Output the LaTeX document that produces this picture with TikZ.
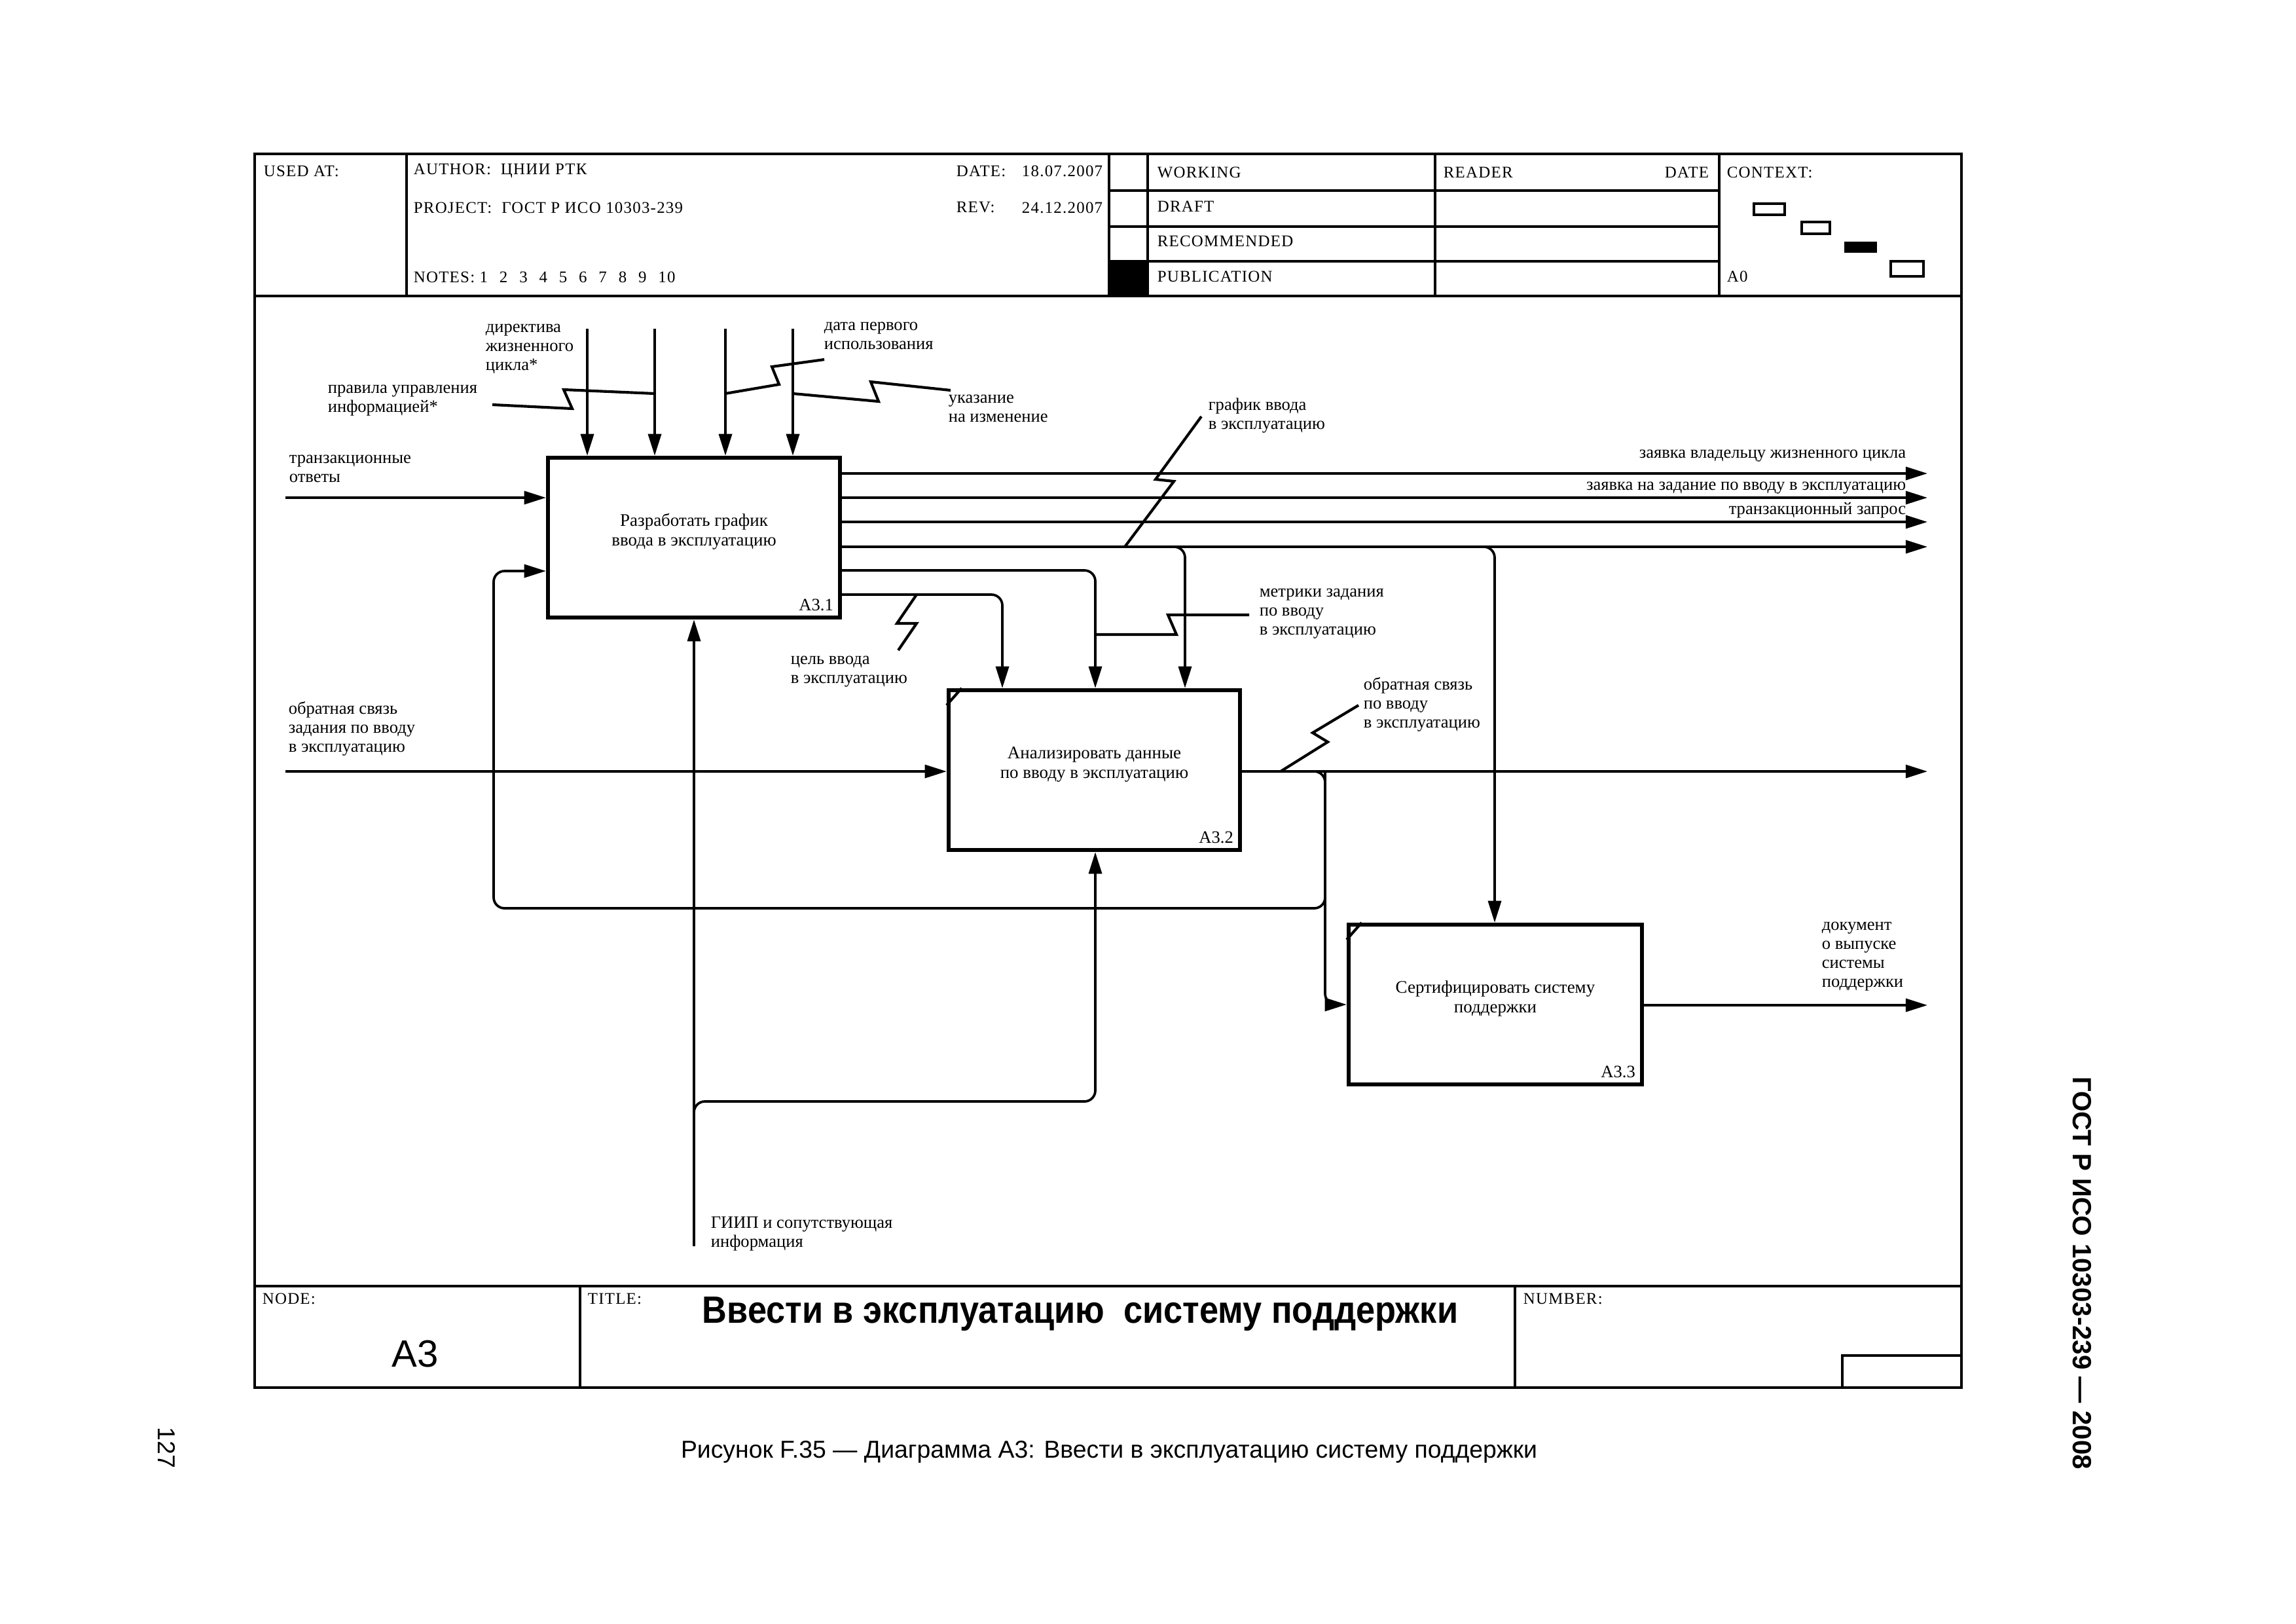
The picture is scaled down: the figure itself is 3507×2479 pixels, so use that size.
\documentclass[tikz,border=0pt]{standalone}
\usepackage{fontspec}
\usepackage{graphicx}
\setmainfont{Liberation Serif}
\newfontfamily\arialfont{Liberation Sans}
\newfontfamily\hdrfont[LetterSpace=5]{Liberation Serif}
\usetikzlibrary{arrows.meta,fit,calc}

\begin{document}
\begin{tikzpicture}[x=0.0084688cm,y=-0.0084688cm,
        frame/.style={line width=1.1pt},
        cell/.style={line width=0.8pt},
        actbox/.style={draw,line width=1.5pt,inner sep=0pt,align=center,
            font=\fontsize{6.5}{7.2}\selectfont},
        flow/.style={-{Triangle[length=8pt,width=4.8pt]},line width=0.9pt,rounded corners=4pt},
        squig/.style={line width=1pt},
        lbl/.style={inner sep=0pt,align=left,font=\fontsize{6.4}{7}\selectfont},
        hdr/.style={inner sep=0pt,anchor=west,font=\hdrfont\fontsize{6}{7}\selectfont}]

    \useasboundingbox (0,0) rectangle (3507,2479);

    % form
    \draw[frame] (389,235) rectangle (2996,2119);
    \draw[frame] (389,452) -- (2996,452);
    \draw[frame] (389,1964) -- (2996,1964);
    \foreach \xx in {621,1694,1753,2192,2626}
        \draw[cell] (\xx,235) -- (\xx,452);
    \foreach \yy in {291,346,399}
        \draw[cell] (1694,\yy) -- (2626,\yy);
    \fill (1694,399) rectangle (1753,452);
    \draw[cell] (886,1964) -- (886,2119);
    \draw[cell] (2314,1964) -- (2314,2119);
    \draw[frame] (2814,2119) -- (2814,2070) -- (2996,2070);

    \node[hdr] (usedat) at (402,261) {USED AT:};
    \node[hdr] (author) at (631,261) {AUTHOR:\ \ ЦНИИ РТК};
    \node[hdr] (date) at (1460,261) {DATE:};
    \node[hdr,anchor=east] (datev) at (1685,261) {18.07.2007};
    \node[hdr] (project) at (631,317) {PROJECT:\ \ ГОСТ Р ИСО 10303-239};
    \node[hdr] (rev) at (1460,317) {REV:};
    \node[hdr,anchor=east] (revdate) at (1685,317) {24.12.2007};
    \node[hdr] (notes) at (631,423) {NOTES:\ 1\hspace{4.3pt}2\hspace{4.3pt}3\hspace{4.3pt}4\hspace{4.3pt}5\hspace{4.3pt}6\hspace{4.3pt}7\hspace{4.3pt}8\hspace{4.3pt}9\hspace{4.3pt}10};
    \node[hdr] (working) at (1767,263) {WORKING};
    \node[hdr] (draft) at (1767,315) {DRAFT};
    \node[hdr] (recom) at (1767,368) {RECOMMENDED};
    \node[hdr] (publ) at (1767,422) {PUBLICATION};
    \node[hdr] (reader) at (2204,263) {READER};
    \node[hdr,anchor=east] (rdate) at (2611,263) {DATE};
    \node[hdr] (context) at (2637,263) {CONTEXT:};
    \node[hdr] (ctxnode) at (2637,422) {A0};

    % context boxes
    \draw[line width=0.8pt] (2679,311) rectangle (2726,328);
    \draw[line width=1.1pt] (2752,339) rectangle (2795,357);
    \fill (2817,369) rectangle (2867,386);
    \draw[line width=0.8pt] (2888,399) rectangle (2938,422);

    \node[hdr] (nodelbl) at (400,1983) {NODE:};
    \node[hdr] (titlelbl) at (897,1983) {TITLE:};
    \node[hdr] (numlbl) at (2326,1983) {NUMBER:};
    \node[anchor=base,inner sep=0pt,font=\arialfont\fontsize{14}{16}\selectfont] (nodeid) at (634,2087) {A3};
    \node[anchor=base,inner sep=0pt,font=\arialfont\bfseries\fontsize{14}{16}\selectfont] (title) at (1650,2020)
        {\scalebox{0.9}[1]{Ввести в эксплуатацию\ \ систему поддержки}};

    \node[font=\arialfont\fontsize{9}{11}\selectfont] (caption) at (1694,2217)
        {Рисунок F.35 — Диаграмма А3: Ввести в эксплуатацию систему поддержки};
    \node[rotate=-90,font=\arialfont\bfseries\fontsize{9.7}{12}\selectfont] (gost) at (3180,1944)
        {ГОСТ Р ИСО 10303-239 — 2008};
    \node[rotate=-90,font=\arialfont\fontsize{9}{11}\selectfont] (page) at (255,2211) {127};

    % activities
    \node[actbox,fit={(837,699) (1283,943)}] (a31) {Разработать график\\ввода в эксплуатацию};
    \node[actbox,fit={(1449,1054) (1894,1298)}] (a32) {Анализировать данные\\по вводу в эксплуатацию};
    \node[actbox,fit={(2060,1412) (2508,1656)}] (a33) {Сертифицировать систему\\поддержки};
    \node[lbl,anchor=south east] (n31) at ([xshift=-3pt,yshift=3pt]a31.south east) {A3.1};
    \node[lbl,anchor=south east] (n32) at ([xshift=-3pt,yshift=3pt]a32.south east) {A3.2};
    \node[lbl,anchor=south east] (n33) at ([xshift=-3pt,yshift=3pt]a33.south east) {A3.3};
    \draw[line width=1pt] ($(a32.north west)+(0,26)$) -- ($(a32.north west)+(23,0)$);
    \draw[line width=1pt] ($(a33.north west)+(0,26)$) -- ($(a33.north west)+(23,0)$);

    % arrows
    \coordinate (ctl1) at (897,502);
    \coordinate (ctl2) at (1000,502);
    \coordinate (ctl3) at (1108,502);
    \coordinate (ctl4) at (1211,502);
    \coordinate (inp1) at (436,760);
    \coordinate (inp2) at (436,1178);
    \coordinate (out1) at (2944,723);
    \coordinate (out2) at (2944,760);
    \coordinate (out3) at (2944,797);
    \coordinate (out4) at (2944,835);
    \coordinate (out5) at (2944,1178);
    \coordinate (out6) at (2944,1535);
    \coordinate (br1) at (1810,835);
    \coordinate (br2) at (2283,835);
    \coordinate (k1) at (1531,908);
    \coordinate (k2) at (1673,871);
    \coordinate (fb) at (2024,1178);
    \coordinate (lp1) at (2024,1387);
    \coordinate (lp2) at (754,1387);
    \coordinate (lp3) at (754,872);
    \coordinate (mech) at (1060,1903);
    \coordinate (mb) at (1673,1682);

    \foreach \p in {ctl1,ctl2,ctl3,ctl4}
        \draw[flow] (\p) -- (\p |- a31.north);
    \draw[flow] (inp1) -- (inp1 -| a31.west);
    \foreach \p in {out1,out2,out3,out4}
        \draw[flow] (\p -| a31.east) -- (\p);
    \draw[flow] (br1 -| a31.east) -- (br1) -- (br1 |- a32.north);
    \draw[flow] (br1) -- (br2) -- (br2 |- a33.north);
    \draw[flow] (k2 -| a31.east) -- (k2) -- (k2 |- a32.north);
    \draw[flow] (k1 -| a31.east) -- (k1) -- (k1 |- a32.north);
    \draw[flow] (inp2) -- (inp2 -| a32.west);
    \draw[flow] (out5 -| a32.east) -- (out5);
    \draw[flow] (fb -| a32.east) -- (fb) -- (fb |- a33.west) -- (a33.west);
    \draw[flow] (fb) -- (lp1) -- (lp2) -- (lp3) -- (lp3 -| a31.west);
    \draw[flow] (out6 -| a33.east) -- (out6);
    \draw[flow] (mech) -- (mech |- a31.south);
    \draw[flow] (mech) -- (mech |- mb) -- (mb) -- (mb |- a32.south);

    % squiggles
    \draw[squig] (752,618) -- (874,624) -- (861,595) -- (1000,601);
    \draw[squig] (1108,601) -- (1190,587) -- (1179,560) -- (1259,549);
    \draw[squig] (1211,601) -- (1342,613) -- (1330,583) -- (1452,596);
    \draw[squig] (1718,835) -- (1793,735) -- (1765,732) -- (1835,636);
    \draw[squig] (1400,908) -- (1370,952) -- (1400,952) -- (1372,993);
    \draw[squig] (1908,939) -- (1784,939) -- (1797,969) -- (1673,969);
    \draw[squig] (1956,1178) -- (2028,1133) -- (2005,1119) -- (2075,1077);

    % labels
    \node[lbl,anchor=north west] (lDir) at (741,494) {директива\\жизненного\\цикла*};
    \node[lbl,anchor=north west] (lRule) at (500,587) {правила управления\\информацией*};
    \node[lbl,anchor=north west] (lDate) at (1258,491) {дата первого\\использования};
    \node[lbl,anchor=north west] (lChange) at (1448,602) {указание\\на изменение};
    \node[lbl,anchor=north west] (lResp) at (441,694) {транзакционные\\ответы};
    \node[lbl,anchor=north west] (lSched) at (1845,607) {график ввода\\в эксплуатацию};
    \node[lbl,anchor=north west] (lGoal) at (1207,1001) {цель ввода\\в эксплуатацию};
    \node[lbl,anchor=north west] (lMetr) at (1923,898) {метрики задания\\по вводу\\в эксплуатацию};
    \node[lbl,anchor=north west] (lFb) at (2082,1034) {обратная связь\\по вводу\\в эксплуатацию};
    \node[lbl,anchor=north west] (lTask) at (440,1071) {обратная связь\\задания по вводу\\в эксплуатацию};
    \node[lbl,anchor=north west] (lDoc) at (2782,1407) {документ\\о выпуске\\системы\\поддержки};
    \node[lbl,anchor=north west] (lGiip) at (1085,1857) {ГИИП и сопутствующая\\информация};
    \node[lbl,anchor=base east] (lOwner) at (2912,699) {заявка владельцу жизненного цикла};
    \node[lbl,anchor=base east] (lTaskReq) at (2912,748) {заявка на задание по вводу в эксплуатацию};
    \node[lbl,anchor=base east] (lTrans) at (2912,785) {транзакционный запрос};
\end{tikzpicture}
\end{document}
